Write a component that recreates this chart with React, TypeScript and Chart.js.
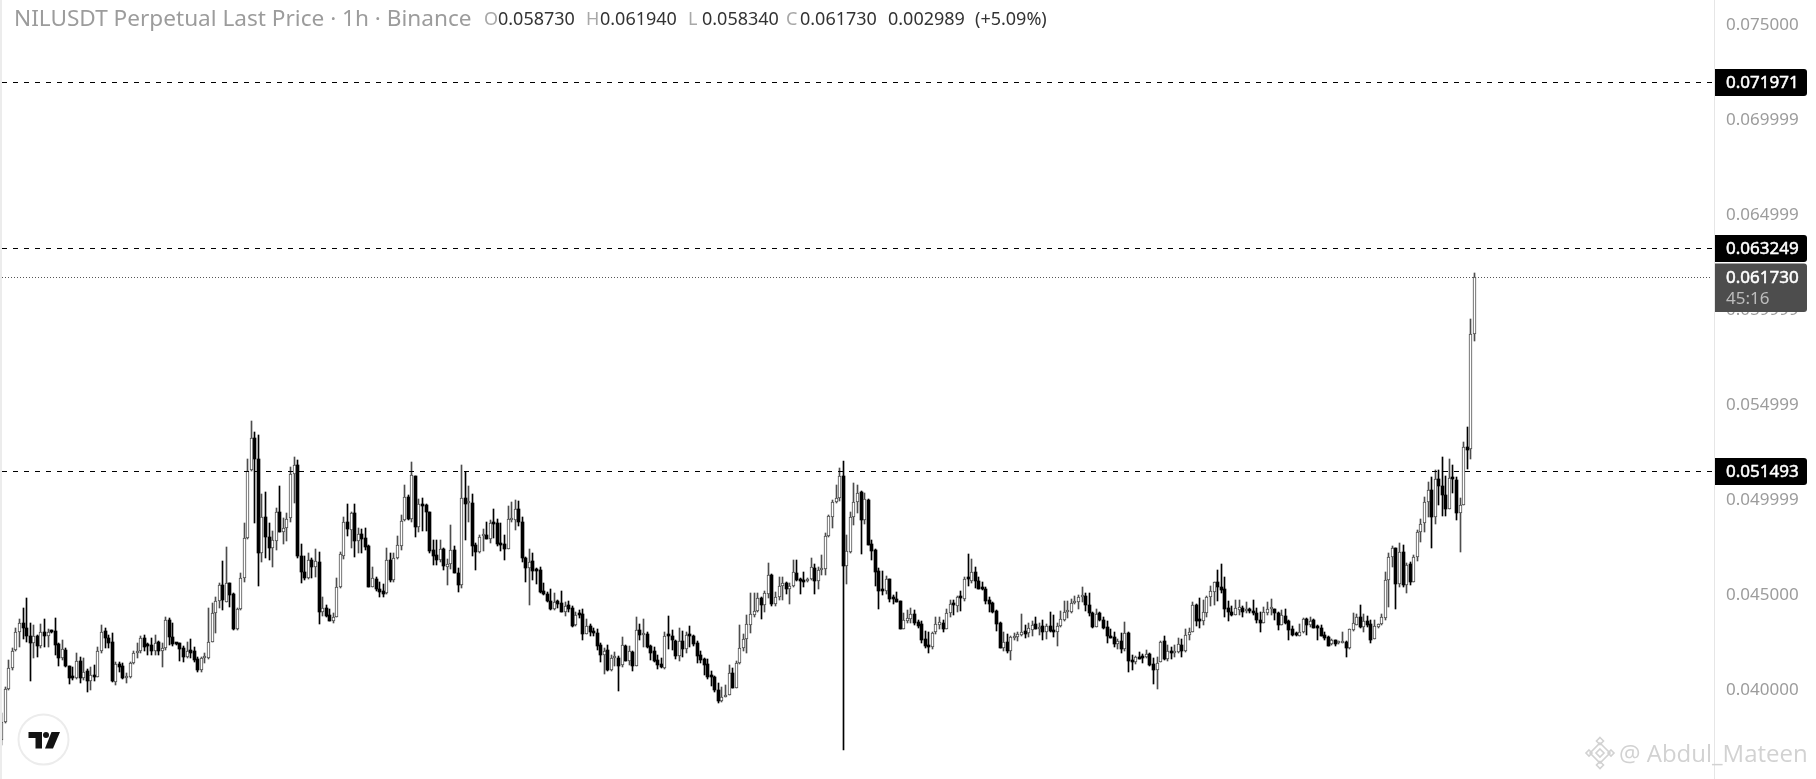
import React, { useEffect, useRef } from "react";
import { Chart, registerables } from "chart.js";

Chart.register(...registerables);

const priceUnit = 0.00001;
const opens = [
3735,3831,4002,4112,4209,4305,4349,4326,4279,4247,4279,4230,4300,4279,4308,4307,4238,4165,4209,4124,
4066,4059,4151,4058,4096,4047,4072,4068,4200,4308,4272,4249,4042,4133,4124,4058,4068,4138,4191,4200,
4272,4233,4233,4200,4249,4200,4217,4366,4275,4245,4244,4217,4173,4209,4200,4159,4103,4165,4165,4252,
4401,4468,4551,4463,4563,4501,4317,4422,4586,4796,5156,5322,5212,4721,4910,4801,4743,4784,4933,4831,
4852,4900,5133,5180,4703,4619,4587,4680,4647,4670,4410,4428,4391,4358,4384,4538,4705,4880,4840,4928,
4784,4817,4796,4756,4542,4580,4528,4517,4507,4679,4577,4691,4757,4893,5012,4898,5122,4857,4972,4970,
4933,4735,4708,4682,4738,4647,4658,4735,4612,4551,5007,4979,4980,4761,4724,4807,4814,4794,4877,4875,
4766,4766,4742,4894,4893,4949,4880,4694,4642,4675,4629,4628,4517,4501,4468,4422,4465,4454,4410,4444,
4429,4337,4394,4396,4294,4333,4301,4296,4233,4179,4207,4100,4166,4165,4130,4230,4151,4196,4126,4312,
4289,4291,4228,4201,4154,4133,4112,4287,4280,4256,4177,4254,4215,4282,4282,4244,4180,4161,4133,4072,
4066,3998,3937,3958,3973,4086,4010,4138,4217,4265,4342,4394,4412,4480,4447,4505,4603,4452,4489,4547,
4561,4531,4547,4612,4582,4572,4570,4579,4638,4573,4628,4636,4808,4910,4989,5007,5124,4652,4724,4907,
4986,5040,4893,4998,4765,4735,4622,4522,4521,4580,4480,4477,4466,4321,4361,4373,4398,4354,4345,4266,
4233,4226,4300,4340,4349,4321,4401,4451,4442,4487,4477,4582,4573,4617,4570,4533,4529,4470,4454,4414,
4351,4221,4249,4205,4272,4275,4289,4307,4296,4315,4345,4321,4335,4305,4333,4312,4305,4335,4368,4408,
4408,4454,4459,4487,4491,4444,4401,4331,4401,4366,4328,4277,4275,4242,4254,4215,4298,4154,4147,4170,
4170,4170,4186,4133,4100,4147,4254,4159,4198,4194,4196,4233,4203,4286,4301,4444,4366,4358,4405,4489,
4515,4565,4538,4528,4428,4407,4394,4419,4428,4412,4417,4414,4405,4366,4352,4405,4426,4422,4401,4340,
4387,4359,4317,4291,4284,4305,4370,4340,4365,4330,4322,4286,4275,4238,4259,4243,4247,4250,4218,4315,
4341,4380,4331,4359,4345,4268,4331,4343,4378,4575,4696,4743,4557,4722,4548,4659,4568,4696,4827,4875,
4985,5048,4910,5106,5071,5022,4952,5113,5103,4931,4973,5274,5264,5873];
const closes = [
3831,4002,4112,4205,4305,4349,4326,4279,4247,4279,4230,4300,4279,4305,4305,4235,4165,4212,4126,4063,
4061,4151,4058,4094,4047,4075,4068,4200,4305,4273,4244,4047,4133,4121,4063,4068,4138,4191,4200,4272,
4226,4230,4200,4247,4200,4217,4366,4275,4238,4242,4215,4173,4205,4194,4156,4103,4165,4173,4252,4401,
4468,4551,4472,4563,4498,4317,4422,4586,4796,5152,5322,5212,4717,4910,4805,4747,4787,4936,4831,4852,
4896,5133,5180,4700,4619,4587,4679,4647,4675,4410,4428,4387,4358,4384,4538,4712,4879,4845,4928,4779,
4819,4793,4752,4542,4586,4528,4512,4503,4679,4577,4691,4759,4889,5012,4898,5128,4857,4975,4968,4933,
4729,4705,4682,4738,4650,4661,4735,4612,4551,5007,4975,4982,4757,4724,4801,4812,4794,4875,4873,4765,
4763,4742,4896,4898,4949,4879,4694,4642,4673,4624,4626,4514,4500,4466,4422,4463,4452,4410,4442,4424,
4335,4391,4391,4294,4333,4301,4298,4231,4179,4205,4100,4165,4170,4126,4233,4151,4201,4126,4312,4287,
4293,4224,4194,4152,4130,4116,4280,4284,4258,4177,4254,4215,4286,4279,4242,4177,4156,4131,4068,4068,
3998,3937,3963,3973,4086,4010,4138,4217,4265,4344,4396,4412,4480,4447,4507,4601,4452,4489,4547,4559,
4531,4547,4617,4577,4573,4568,4580,4643,4573,4628,4635,4808,4914,4987,5007,5124,4652,4728,4907,4986,
5036,4893,5001,4763,4731,4619,4519,4519,4580,4477,4475,4463,4321,4366,4375,4398,4352,4335,4261,4230,
4226,4296,4344,4354,4321,4401,4449,4447,4487,4484,4582,4579,4617,4570,4531,4529,4468,4452,4408,4345,
4221,4249,4205,4275,4275,4291,4305,4294,4322,4342,4321,4331,4305,4333,4310,4305,4333,4370,4408,4414,
4454,4461,4487,4491,4445,4401,4330,4396,4365,4322,4279,4273,4240,4254,4215,4296,4152,4147,4170,4163,
4166,4186,4130,4100,4142,4252,4159,4201,4194,4198,4238,4205,4286,4301,4444,4363,4363,4407,4486,4517,
4565,4542,4522,4426,4407,4393,4428,4433,4410,4417,4412,4400,4366,4352,4407,4422,4429,4400,4340,4393,
4351,4314,4287,4287,4303,4370,4340,4358,4324,4322,4284,4273,4230,4259,4241,4248,4250,4220,4317,4348,
4380,4331,4359,4341,4261,4333,4343,4380,4575,4696,4743,4557,4722,4552,4657,4568,4696,4827,4869,4985,
5048,4910,5106,5073,5022,4952,5111,5110,4931,4973,5274,5260,5873,6173];
const highs = [
3875,4012,4156,4217,4322,4372,4428,4480,4352,4340,4287,4345,4370,4317,4314,4375,4244,4258,4217,4126,
4121,4191,4170,4165,4107,4121,4130,4226,4340,4322,4287,4296,4147,4147,4138,4086,4147,4200,4244,4282,
4287,4244,4270,4287,4254,4244,4380,4375,4349,4247,4247,4230,4252,4266,4223,4170,4173,4191,4428,4454,
4489,4563,4677,4752,4563,4507,4428,4615,4875,5212,5413,5354,5340,5029,5042,4875,4835,4954,5071,4901,
4928,5173,5222,5208,4765,4700,4717,4691,4738,4726,4489,4445,4422,4401,4586,4726,4910,4977,4936,4977,
4849,4843,4849,4761,4647,4591,4568,4556,4743,4717,4721,4808,4919,5077,5024,5196,5124,5001,5007,4975,
4936,4787,4787,4787,4743,4687,4866,4756,4638,5182,5147,5071,5029,4770,4814,4843,4882,4893,4950,4896,
4875,4814,4966,4987,4998,4993,4907,4696,4738,4717,4638,4643,4559,4515,4529,4507,4472,4517,4463,4466,
4440,4407,4419,4422,4370,4345,4322,4317,4244,4217,4235,4182,4196,4175,4275,4235,4230,4205,4380,4345,
4370,4301,4235,4226,4182,4165,4305,4387,4314,4258,4322,4310,4305,4335,4287,4256,4200,4165,4159,4098,
4072,4033,4012,4024,4130,4112,4152,4340,4291,4393,4507,4507,4510,4489,4521,4665,4608,4515,4594,4594,
4568,4559,4682,4682,4589,4619,4586,4691,4661,4647,4708,4822,4919,4998,5077,5164,5203,4814,4936,5086,
5077,5047,5033,5001,4787,4738,4638,4624,4598,4582,4498,4515,4466,4401,4419,4428,4419,4366,4359,4308,
4300,4301,4384,4384,4366,4422,4472,4472,4493,4519,4591,4714,4687,4643,4594,4565,4542,4489,4463,4419,
4354,4300,4293,4282,4296,4301,4398,4340,4349,4358,4382,4352,4366,4345,4408,4393,4349,4415,4466,4466,
4475,4494,4498,4540,4507,4507,4410,4422,4410,4380,4358,4321,4301,4268,4296,4354,4305,4182,4177,4196,
4187,4208,4191,4165,4173,4256,4282,4235,4226,4233,4272,4265,4319,4322,4461,4449,4480,4472,4494,4545,
4568,4629,4661,4591,4466,4437,4472,4472,4437,4459,4428,4472,4428,4410,4433,4459,4477,4424,4407,4419,
4422,4366,4335,4305,4345,4375,4375,4380,4370,4340,4340,4305,4282,4264,4261,4257,4305,4256,4319,4403,
4398,4445,4398,4387,4366,4366,4345,4398,4619,4717,4755,4743,4770,4759,4664,4671,4708,4840,4896,5015,
5092,5118,5155,5155,5222,5124,5213,5182,5117,5006,5303,5383,5948,6194];
const lows = [
3708,3826,3998,4103,4200,4226,4265,4252,4047,4165,4173,4217,4223,4226,4296,4182,4126,4156,4121,4030,
4051,4054,4033,4051,3989,3998,4047,4065,4191,4217,4217,4037,4024,4094,4054,4033,4059,4133,4168,4191,
4200,4182,4179,4182,4182,4116,4209,4235,4230,4235,4151,4147,4165,4165,4147,4094,4094,4138,4161,4249,
4296,4428,4419,4463,4433,4314,4314,4419,4568,4791,5152,4875,4547,4673,4691,4682,4647,4735,4831,4766,
4779,4884,4984,4694,4563,4577,4582,4586,4594,4345,4387,4384,4358,4349,4380,4533,4686,4808,4743,4696,
4717,4721,4735,4538,4538,4521,4489,4489,4503,4568,4568,4686,4735,4889,4893,4884,4801,4828,4836,4836,
4721,4656,4656,4670,4629,4551,4636,4612,4515,4536,4787,4884,4705,4629,4721,4731,4791,4773,4796,4757,
4731,4682,4740,4879,4840,4861,4673,4568,4445,4577,4556,4510,4498,4458,4419,4419,4428,4407,4389,4410,
4331,4335,4375,4258,4293,4284,4279,4209,4147,4082,4098,4098,4124,3993,4121,4151,4130,4098,4124,4261,
4226,4221,4156,4147,4110,4112,4110,4214,4209,4161,4152,4170,4194,4223,4231,4142,4142,4077,4054,4021,
3989,3931,3935,3958,3972,4009,4009,4135,4205,4194,4296,4384,4408,4372,4410,4480,4437,4437,4472,4472,
4503,4451,4538,4572,4503,4542,4566,4575,4503,4531,4603,4603,4805,4849,4980,4994,3682,4556,4717,4866,
4931,4714,4872,4761,4682,4545,4424,4498,4501,4458,4451,4459,4317,4317,4352,4352,4340,4322,4247,4217,
4194,4214,4291,4317,4300,4319,4379,4393,4410,4415,4468,4547,4563,4536,4531,4524,4451,4410,4401,4310,
4217,4203,4194,4156,4258,4256,4282,4273,4275,4282,4317,4287,4258,4268,4305,4275,4230,4331,4359,4375,
4405,4451,4424,4459,4415,4387,4326,4330,4361,4319,4247,4273,4226,4215,4194,4205,4094,4102,4135,4159,
4138,4165,4126,4030,4005,4145,4156,4152,4159,4173,4191,4173,4196,4261,4300,4335,4326,4340,4380,4437,
4445,4468,4507,4384,4358,4387,4393,4393,4379,4401,4401,4393,4352,4305,4351,4393,4393,4366,4314,4338,
4345,4258,4282,4282,4282,4296,4287,4331,4322,4258,4279,4258,4230,4234,4229,4238,4247,4173,4215,4310,
4340,4324,4305,4327,4247,4266,4326,4340,4368,4436,4647,4424,4541,4541,4510,4552,4566,4678,4778,4829,
4910,4745,4873,4971,4913,4913,4950,5036,4892,4726,4969,5159,5213,5834];

const tickValues = [0.075, 0.069999, 0.064999, 0.059999, 0.054999, 0.049999, 0.045, 0.04];
const levelPrices = [0.071971, 0.063249, 0.051493];
const lastPrice = 0.06173;
const countdown = "45:16";
const titleText = "NILUSDT Perpetual Last Price · 1h · Binance";
const ohlcText = [
  ["O", "0.058730"],
  ["H", "0.061940"],
  ["L", "0.058340"],
  ["C", "0.061730"],
];
const changeText = ["0.002989", "(+5.09%)"];
const watermarkText = "@ Abdul_Mateen";

const UP = "#4d4d4d";
const DOWN = "#000000";
const AXIS_W = 102;
const TICK_FONT = '17px "Noto Sans"';

const isUp = (i: number) => closes[i] >= opens[i];
const idx = opens.map((_, i) => i);
const wickData = (up: boolean) =>
  idx.filter((i) => isUp(i) === up).map((i) => ({ x: i, y: [lows[i] * priceUnit, highs[i] * priceUnit] }));
const bodyData = (up: boolean) =>
  idx.filter((i) => isUp(i) === up).map((i) => ({ x: i, y: [opens[i] * priceUnit, closes[i] * priceUnit] }));

let labelsNudged = false;

const overlay = {
  id: "overlay",
  beforeDraw(chart: any) {
    if (labelsNudged) return;
    labelsNudged = true;
    chart.scales.y.getLabelItems(chart.chartArea).forEach((item: any) => {
      item.options.translation[1] += 1;
    });
  },
  beforeDatasetsDraw(chart: any) {
    chart.getSortedVisibleDatasetMetas().forEach((meta: any) => {
      meta.data.forEach((el: any) => {
        el.x = Math.floor(el.x) + 0.5;
        el.y = Math.round(el.y);
        el.base = Math.round(el.base);
      });
    });
  },
  afterDraw(chart: any) {
    const { ctx, chartArea, scales } = chart;
    const yS = scales.y;
    const right = chartArea.right;
    ctx.save();

    ctx.fillStyle = "#ececec";
    ctx.fillRect(0, 0, 2, chart.height);

    const label = (y0: number, y1: number, color: string) => {
      ctx.fillStyle = color;
      ctx.beginPath();
      ctx.roundRect(right + 1, y0, AXIS_W - 10, y1 - y0, [0, 3, 3, 0]);
      ctx.fill();
    };
    const strongText = (t: string, x: number, y: number) => {
      ctx.fillStyle = "#fff";
      ctx.strokeStyle = "#fff";
      ctx.lineWidth = 0.5;
      ctx.font = TICK_FONT;
      ctx.fillText(t, x, y);
      ctx.strokeText(t, x, y);
    };

    ctx.textBaseline = "middle";
    ctx.textAlign = "left";

    levelPrices.forEach((p) => {
      const y = Math.round(yS.getPixelForValue(p)) + 0.5;
      ctx.strokeStyle = "#000";
      ctx.lineWidth = 1;
      ctx.setLineDash([5, 6]);
      ctx.beginPath();
      ctx.moveTo(2, y);
      ctx.lineTo(right - 2, y);
      ctx.stroke();
      ctx.setLineDash([]);
      label(y - 13.5, y + 13.5, "#000");
      strongText(p.toFixed(6), right + 12, y + 1);
    });

    const ly = Math.round(yS.getPixelForValue(lastPrice)) + 0.5;
    ctx.strokeStyle = "#555";
    ctx.lineWidth = 1;
    ctx.setLineDash([1, 2]);
    ctx.beginPath();
    ctx.moveTo(2, ly);
    ctx.lineTo(right - 2, ly);
    ctx.stroke();
    ctx.setLineDash([]);
    label(ly - 14, ly + 34.5, "#4d4d4d");
    strongText(lastPrice.toFixed(6), right + 12, ly + 1);
    ctx.fillStyle = "#bdbdbd";
    ctx.font = TICK_FONT;
    ctx.fillText(countdown, right + 12, ly + 22);

    // header
    ctx.font = '22.6px "Noto Sans"';
    ctx.fillStyle = "#9c9c9c";
    ctx.fillText(titleText, 14, 20);
    const xs = [484, 586, 688, 786];
    ctx.font = '18px "Noto Sans"';
    ohlcText.forEach(([k, v], i) => {
      ctx.fillStyle = "#a8a8a8";
      ctx.fillText(k, xs[i], 20);
      ctx.fillStyle = "#333";
      ctx.fillText(v, xs[i] + 14, 20);
    });
    ctx.fillText(changeText[0], 888, 20);
    ctx.fillText(changeText[1], 975, 20);

    // logo
    ctx.strokeStyle = "#ececec";
    ctx.lineWidth = 2;
    ctx.fillStyle = "#fff";
    ctx.beginPath();
    ctx.arc(43.5, 739.5, 25, 0, Math.PI * 2);
    ctx.fill();
    ctx.stroke();
    ctx.fillStyle = "#131313";
    ctx.fillRect(28.5, 732, 13.5, 6);
    ctx.fillRect(35.5, 732, 6.5, 16.5);
    ctx.beginPath();
    ctx.arc(46, 735, 3, 0, Math.PI * 2);
    ctx.fill();
    ctx.beginPath();
    ctx.moveTo(51.5, 732);
    ctx.lineTo(60, 732);
    ctx.lineTo(53, 748.5);
    ctx.lineTo(45, 748.5);
    ctx.closePath();
    ctx.fill();

    // watermark
    const wm = "#d2d2d2";
    ctx.fillStyle = wm;
    ctx.font = '24px "Open Sans"';
    ctx.fillText(watermarkText, 1619, 755);
    const diamond = (cx: number, cy: number, r: number) => {
      ctx.beginPath();
      ctx.moveTo(cx, cy - r);
      ctx.lineTo(cx + r, cy);
      ctx.lineTo(cx, cy + r);
      ctx.lineTo(cx - r, cy);
      ctx.closePath();
    };
    ctx.strokeStyle = wm;
    ctx.lineWidth = 1.6;
    diamond(1600, 753, 4);
    ctx.stroke();
    diamond(1600, 753, 10);
    ctx.stroke();
    diamond(1600, 741, 3.5);
    ctx.stroke();
    diamond(1600, 765, 3.5);
    ctx.stroke();
    diamond(1589, 753, 3);
    ctx.stroke();
    diamond(1611, 753, 3);
    ctx.stroke();
    ctx.restore();
  },
};

export default function App() {
  const ref = useRef<HTMLCanvasElement>(null);
  useEffect(() => {
    labelsNudged = false;
    const chart = new Chart(ref.current as HTMLCanvasElement, {
      type: "bar",
      data: {
        datasets: [
          { data: bodyData(true), backgroundColor: "#fff", borderColor: UP, borderWidth: 1, barThickness: 3, borderSkipped: false, minBarLength: 2, order: 0 },
          { data: bodyData(false), backgroundColor: DOWN, borderWidth: 0, barThickness: 3, minBarLength: 2, order: 1 },
          { data: wickData(true), backgroundColor: UP, borderWidth: 0, barThickness: 1, order: 2 },
          { data: wickData(false), backgroundColor: DOWN, borderWidth: 0, barThickness: 1, order: 3 },
        ] as any,
      },
      plugins: [overlay],
      options: {
        animation: false,
        responsive: false,
        devicePixelRatio: 1,
        events: [],
        layout: { padding: 0 },
        datasets: { bar: { grouped: false } },
        plugins: { legend: { display: false }, tooltip: { enabled: false } },
        scales: {
          x: { type: "linear", display: false, min: -0.468, max: 480.2, offset: false },
          y: {
            position: "right",
            min: 0.035289,
            max: 0.076289,
            afterFit(scale: any) {
              scale.width = AXIS_W;
              scale.paddingTop = 0;
              scale.paddingBottom = 0;
            },
            afterBuildTicks(scale: any) {
              scale.ticks = tickValues.map((value) => ({ value }));
            },
            grid: { display: false, drawTicks: false },
            border: { display: true, color: "#e6e6e6", width: 1 },
            ticks: {
              autoSkip: false,
              padding: 12,
              color: "#9c9c9c",
              font: { family: "Noto Sans", size: 17 },
              callback: (v: any) => Number(v).toFixed(6),
            },
          },
        },
      } as any,
    });
    return () => chart.destroy();
  }, []);
  return (
    <canvas
      ref={ref}
      width={1816}
      height={779}
      style={{ position: "fixed", left: 0, top: 0, width: 1816, height: 779, display: "block", background: "#fff" }}
    />
  );
}
